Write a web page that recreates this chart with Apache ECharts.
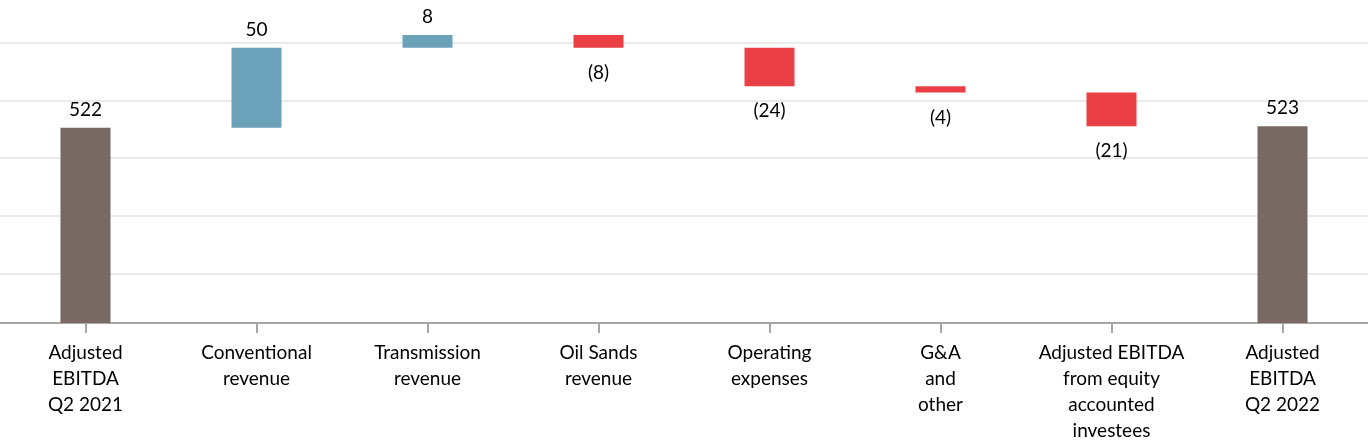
<!DOCTYPE html>
<html><head><meta charset="utf-8">
<script src="https://cdn.jsdelivr.net/npm/echarts@6/dist/echarts.min.js"></script>
<style>html,body{margin:0;padding:0;background:#fff}#c{width:1368px;height:440px}</style>
</head><body><div id="c"></div>
<script>
const categories = [
  'Adjusted\nEBITDA\nQ2 2021',
  'Conventional\nrevenue',
  'Transmission\nrevenue',
  'Oil Sands\nrevenue',
  'Operating\nexpenses',
  'G&A\nand\nother',
  'Adjusted EBITDA\nfrom equity\naccounted\ninvestees',
  'Adjusted\nEBITDA\nQ2 2022'
];
const startValue = 522;
const changes = [50, 8, -8, -24, -4, -21];
const endValue = 523;
const gridValues = [431, 467, 503.5, 539, 575];

const COL_TOTAL = '#786963', COL_UP = '#6BA2BA', COL_DOWN = '#EA3F45';
const FONT = 'Lato';
const labelBase = {show: true, color: '#000', fontFamily: FONT, fontSize: 19, lineHeight: 22};

const base = [], vis = [];
base.push(0);
vis.push({value: startValue, itemStyle: {color: COL_TOTAL},
  label: Object.assign({}, labelBase, {position: 'top', distance: 7, formatter: String(startValue)})});
let cum = startValue;
changes.forEach(d => {
  if (d >= 0) {
    base.push(cum);
    vis.push({value: d, itemStyle: {color: COL_UP},
      label: Object.assign({}, labelBase, {position: 'top', distance: 7, formatter: String(d)})});
    cum += d;
  } else {
    cum += d;
    base.push(cum);
    vis.push({value: -d, itemStyle: {color: COL_DOWN},
      label: Object.assign({}, labelBase, {position: 'bottom', distance: 14, formatter: '(' + (-d) + ')'})});
  }
});
base.push(0);
vis.push({value: endValue, itemStyle: {color: COL_TOTAL},
  label: Object.assign({}, labelBase, {position: 'top', distance: 7, formatter: String(endValue)})});

const chart = echarts.init(document.getElementById('c'), null, {renderer: 'canvas'});
chart.setOption({
  animation: false,
  backgroundColor: '#fff',
  grid: {left: 0, right: 0, top: 3, bottom: 117, containLabel: false, outerBoundsMode: 'none'},
  xAxis: {
    type: 'category', data: categories,
    axisLine: {show: true, lineStyle: {color: '#a6a6a6', width: 2}},
    axisTick: {show: true, alignWithLabel: true, length: 10, lineStyle: {color: '#a6a6a6', width: 2}},
    axisLabel: {interval: 0, color: '#000', fontFamily: FONT, fontSize: 19, lineHeight: 26, margin: 17, align: 'center'},
    splitLine: {show: false}
  },
  yAxis: {
    type: 'value', min: 400, max: 600,
    axisLine: {show: false}, axisTick: {show: false}, axisLabel: {show: false}, splitLine: {show: false}
  },
  series: [
    {
      type: 'bar', stack: 'w', data: base, barWidth: 50, silent: true,
      itemStyle: {color: 'rgba(0,0,0,0)'}, z: 1,
      markLine: {
        silent: true, symbol: 'none', z: 1, animation: false,
        label: {show: false},
        lineStyle: {color: '#e3e3e3', width: 1.5, type: 'solid'},
        data: gridValues.map(v => ({yAxis: v}))
      }
    },
    {
      type: 'bar', stack: 'w', data: vis, barWidth: 50, z: 3
    }
  ]
});
</script></body></html>
